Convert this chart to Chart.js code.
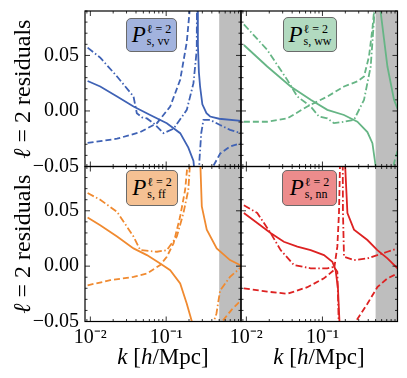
<!DOCTYPE html>
<html>
<head>
<meta charset="utf-8">
<script src="https://cdn.jsdelivr.net/npm/chart.js@4"></script>
<style>
body { margin: 0; background: #fff; }
#wrap { position: relative; width: 407px; height: 378px; font-family: 'Liberation Serif', serif; color: #000; }
canvas { position: absolute; left: 0; top: 0; }
.ylab { position: absolute; width: 200px; height: 30px; line-height: 30px; text-align: center; font-size: 24px; transform: rotate(-90deg); }
.xlab { position: absolute; width: 160px; height: 30px; line-height: 30px; text-align: center; font-size: 23px; }
.box { position: absolute; box-sizing: border-box; border: 1px solid #6a6a6a; border-radius: 5px;
       display: flex; align-items: center; justify-content: center; }
.P { font-style: italic; font-size: 23px; line-height: 24px; }
.ss { display: inline-flex; flex-direction: column; font-size: 12px; line-height: 12px; margin-left: 1px; }
</style>
</head>
<body>
<div id="wrap">
  <canvas id="c-vv" width="407" height="378"></canvas>
  <canvas id="c-ww" width="407" height="378"></canvas>
  <canvas id="c-ff" width="407" height="378"></canvas>
  <canvas id="c-nn" width="407" height="378"></canvas>

  <div class="ylab" style="left:-78px;top:74px"><i>ℓ</i> = 2 residuals</div>
  <div class="ylab" style="left:-78px;top:229px"><i>ℓ</i> = 2 residuals</div>
  <div class="xlab" style="left:83px;top:342px"><i>k</i> [<i>h</i>/Mpc]</div>
  <div class="xlab" style="left:239px;top:342px"><i>k</i> [<i>h</i>/Mpc]</div>

  <div class="box" style="left:126px;top:18px;width:51px;height:34px;background:#a2b3de">
    <span class="P">P</span><span class="ss"><span>ℓ = 2</span><span>s, vv</span></span></div>
  <div class="box" style="left:283px;top:17px;width:54px;height:35px;background:#b2dac0">
    <span class="P">P</span><span class="ss"><span>ℓ = 2</span><span>s, ww</span></span></div>
  <div class="box" style="left:126px;top:170px;width:52px;height:36px;background:#f5c193">
    <span class="P">P</span><span class="ss"><span>ℓ = 2</span><span>s, ff</span></span></div>
  <div class="box" style="left:282px;top:170px;width:55px;height:36px;background:#ec8c8c">
    <span class="P">P</span><span class="ss"><span>ℓ = 2</span><span>s, nn</span></span></div>
</div>

<script>
Chart.defaults.font.family = "'Liberation Serif', serif";
Chart.defaults.color = '#000';

// axis ranges and ticks
const kMin = 0.0085, kMax = 0.97;
const yMin = -0.05, yMax = 0.09;
const xTickVals = [0.01, 0.1];
const xTickLabels = ['10⁻²', '10⁻¹'];
const yTickVals = [-0.05, 0, 0.05];
const yTickLabels = ['−0.05', '0.00', '0.05'];
const bandStart = 0.5;

// vv panel (blue)
const vvSolidK = [0.0092, 0.0135, 0.0225, 0.0371, 0.0615, 0.102, 0.153, 0.196, 0.229, 0.24, 0.248, 0.25, 0.252, 0.256, 0.262, 0.27, 0.28, 0.30, 0.34, 0.38, 0.5, 0.97];
const vvSolid = [0.027, 0.022, 0.013, 0.004, -0.0036, -0.011, -0.020, -0.033, -0.045, -0.06, -0.12, null, 0.3, 0.12, 0.06, 0.035, 0.022, 0.006, -0.002, -0.005, -0.007, -0.009];
const vvDashK = [0.0092, 0.0225, 0.0455, 0.0755, 0.113, 0.153, 0.187, 0.203, 0.212, 0.22, 0.3, 0.415, 0.514, 0.695, 0.97];
const vvDash = [-0.0288, -0.025, -0.019, -0.011, 0.004, 0.028, 0.062, 0.089, 0.3, null, -0.3, -0.05, -0.0385, -0.032, -0.029];
const vvDotK = [0.0092, 0.0135, 0.0225, 0.0371, 0.041, 0.048, 0.0557, 0.068, 0.092, 0.125, 0.187, 0.229, 0.253, 0.262, 0.265, 0.268, 0.274, 0.29, 0.31, 0.38, 0.514, 0.695, 0.97];
const vvDot = [0.057, 0.048, 0.031, 0.013, -0.002, -0.0057, -0.0067, -0.011, -0.020, -0.016, 0.001, 0.025, 0.055, 0.3, null, -0.3, -0.045, -0.02, -0.008, -0.008, -0.0127, -0.017, -0.020];

// ww panel (green)
const wwSolidK = [0.00927, 0.0188, 0.0382, 0.070, 0.116, 0.192, 0.288, 0.39, 0.454, 0.501, 0.54, 0.55, 0.56, 0.583, 0.715, 0.873, 0.97];
const wwSolid = [0.0594, 0.040, 0.022, 0.010, 0.001, -0.0036, -0.0097, -0.019, -0.029, -0.05, -0.3, null, 0.3, 0.089, 0.040, 0.010, 0.002];
const wwDashK = [0.00927, 0.0188, 0.0345, 0.0633, 0.116, 0.192, 0.288, 0.352, 0.409, 0.454, 0.477, 0.49, 0.5, 0.6, 0.873, 0.97];
const wwDash = [-0.0097, -0.0097, -0.0067, 0.004, 0.013, 0.022, 0.0266, 0.031, 0.049, 0.074, 0.09, 0.3, null, -0.3, -0.047, -0.036];
const wwDotK = [0.00927, 0.0188, 0.0345, 0.0468, 0.070, 0.090, 0.116, 0.1417, 0.192, 0.26, 0.352, 0.431, 0.477, 0.49];
const wwDot = [0.078, 0.055, 0.028, 0.013, 0.004, -0.005, -0.0067, -0.011, -0.0097, -0.008, 0.010, 0.040, 0.083, 0.3];

// ff panel (orange)
const ffSolidK = [0.0092, 0.0135, 0.0225, 0.0371, 0.0557, 0.0834, 0.113, 0.153, 0.187, 0.218, 0.262, 0.267, 0.272, 0.283, 0.295, 0.343, 0.464, 0.695, 0.94, 0.97];
const ffSolid = [0.044, 0.037, 0.0267, 0.016, 0.010, 0.0024, -0.0036, -0.0157, -0.034, -0.05, -0.3, null, 0.3, 0.09, 0.054, 0.033, 0.016, 0.0055, 0.001, 0.0005];
const ffDashK = [0.0092, 0.0183, 0.0371, 0.0557, 0.0834, 0.102, 0.125, 0.153, 0.178, 0.19, 0.2, 0.25, 0.3, 0.5, 0.546, 0.737, 0.97];
const ffDash = [-0.0173, -0.0127, -0.0097, -0.0067, 0.001, 0.0085, 0.0206, 0.045, 0.069, 0.09, 0.2, null, -0.3, -0.07, -0.05, -0.039, -0.031];
const ffDotK = [0.0092, 0.0135, 0.0225, 0.0371, 0.0455, 0.0755, 0.102, 0.138, 0.169, 0.196, 0.205, 0.215, 0.25, 0.3, 0.4, 0.415, 0.46, 0.514, 0.695, 0.97];
const ffDot = [0.066, 0.060, 0.049, 0.0267, 0.0145, 0.013, 0.0145, 0.0267, 0.048, 0.069, 0.09, 0.2, null, -0.3, -0.07, -0.052, -0.043, -0.022, -0.0097, -0.001];

// nn panel (red)
const nnSolidK = [0.00927, 0.0139, 0.0208, 0.0311, 0.0468, 0.070, 0.1047, 0.135, 0.149, 0.16, 0.17, 0.178, 0.183, 0.188, 0.196, 0.213, 0.26, 0.39, 0.527, 0.715, 0.97];
const nnSolid = [0.048, 0.039, 0.030, 0.022, 0.0176, 0.0145, 0.010, 0.004, -0.0036, -0.02, -0.06, -0.3, null, 0.3, 0.1, 0.048, 0.033, 0.0236, 0.0145, 0.007, -0.002];
const nnDashK = [0.00927, 0.0188, 0.0345, 0.0633, 0.1047, 0.1417, 0.157, 0.165, 0.17, 0.175, 0.18, 0.2, 0.25, 0.275, 0.39, 0.527, 0.715, 0.97];
const nnDash = [-0.020, -0.023, -0.025, -0.019, -0.011, -0.0036, 0.0176, 0.048, 0.09, 0.3, null, -0.3, -0.08, -0.05, -0.034, -0.019, -0.011, -0.0067];
const nnDotK = [0.00927, 0.0139, 0.0208, 0.0282, 0.0422, 0.070, 0.116, 0.1417, 0.157, 0.165, 0.17, 0.175, 0.18, 0.186, 0.192, 0.26, 0.39, 0.527, 0.715, 0.97];
const nnDot = [0.055, 0.048, 0.030, 0.0145, 0.001, -0.002, -0.002, -0.0006, -0.005, -0.06, -0.3, null, 0.3, 0.05, 0.0085, 0.0055, 0.007, 0.010, 0.013, 0.016];

const W = 407, H = 378;

function pts(k, v) {
  return k.map((x, i) => ({ x: x, y: v[i] }));
}

function line(k, v, color, dash) {
  return {
    data: pts(k, v),
    borderColor: color,
    borderWidth: 1.8,
    borderDash: dash,
    pointRadius: 0,
    tension: 0,
    clip: 0
  };
}

// gray band + inward ticks on all four sides + frame
const framePlugin = {
  id: 'frame',
  beforeDatasetsDraw(chart) {
    const { ctx, chartArea: a, scales: { x } } = chart;
    const x0 = x.getPixelForValue(bandStart);
    ctx.save();
    ctx.fillStyle = '#bebebe';
    ctx.fillRect(x0, a.top, a.right - x0, a.bottom - a.top);
    ctx.restore();
  },
  afterDraw(chart) {
    const { ctx, chartArea: a, scales: { x, y } } = chart;
    ctx.save();
    ctx.strokeStyle = '#000';
    ctx.lineWidth = 0.8;
    ctx.beginPath();
    for (let d = 0.001; d < 2; d *= 10) {
      for (let m = 1; m < 10; m++) {
        const v = m * d;
        if (v < kMin || v > kMax) continue;
        const px = x.getPixelForValue(v);
        const len = m === 1 ? 5 : 2.5;
        ctx.moveTo(px, a.bottom); ctx.lineTo(px, a.bottom - len);
        ctx.moveTo(px, a.top); ctx.lineTo(px, a.top + len);
      }
    }
    for (let i = -5; i <= 9; i++) {
      const py = y.getPixelForValue(i / 100);
      const len = i % 5 === 0 ? 5 : 2.5;
      ctx.moveTo(a.left, py); ctx.lineTo(a.left + len, py);
      ctx.moveTo(a.right, py); ctx.lineTo(a.right - len, py);
    }
    ctx.stroke();
    ctx.lineWidth = 1.2;
    ctx.strokeRect(a.left, a.top, a.right - a.left, a.bottom - a.top);
    ctx.restore();
  }
};

function makePanel(id, box, color, sets, showX, showY) {
  const datasets = [
    line(sets[0], sets[1], color, []),
    line(sets[2], sets[3], color, [6, 3]),
    line(sets[4], sets[5], color, [7, 2.5, 1.5, 2.5])
  ];
  new Chart(document.getElementById(id), {
    type: 'line',
    data: { datasets: datasets },
    plugins: [framePlugin],
    options: {
      responsive: false,
      animation: false,
      // the scale boxes take the whole left / bottom margin, so labels are not clipped
      layout: { padding: { left: 0, top: box.t, right: W - box.r, bottom: 0 } },
      plugins: { legend: { display: false }, tooltip: { enabled: false } },
      scales: {
        x: {
          type: 'logarithmic',
          min: kMin,
          max: kMax,
          grid: { display: false, drawTicks: false },
          border: { display: false },
          afterBuildTicks: s => { s.ticks = xTickVals.map(v => ({ value: v })); },
          afterFit: s => { s.height = H - box.b; s.paddingLeft = 0; s.paddingRight = 0; },
          ticks: {
            display: showX, autoSkip: false, maxRotation: 0, minRotation: 0, padding: 4,
            font: { size: 20 },
            callback: v => xTickLabels[xTickVals.indexOf(v)] || ''
          }
        },
        y: {
          type: 'linear',
          min: yMin,
          max: yMax,
          grid: { display: false, drawTicks: false },
          border: { display: false },
          afterBuildTicks: s => { s.ticks = yTickVals.map(v => ({ value: v })); },
          afterFit: s => { s.width = box.l; s.paddingTop = 0; s.paddingBottom = 0; },
          ticks: {
            display: showY, autoSkip: false, padding: 6,
            font: { size: 20 },
            callback: v => yTickLabels[yTickVals.indexOf(v)] || ''
          }
        }
      }
    }
  });
}

makePanel('c-vv', { l: 85, r: 241, t: 11, b: 166.5 }, '#3f62b5',
  [vvSolidK, vvSolid, vvDashK, vvDash, vvDotK, vvDot], false, true);
makePanel('c-ww', { l: 241, r: 397.5, t: 11, b: 166.5 }, '#66b585',
  [wwSolidK, wwSolid, wwDashK, wwDash, wwDotK, wwDot], false, false);
makePanel('c-ff', { l: 85, r: 241, t: 166.5, b: 321.5 }, '#f08a30',
  [ffSolidK, ffSolid, ffDashK, ffDash, ffDotK, ffDot], true, true);
makePanel('c-nn', { l: 241, r: 397.5, t: 166.5, b: 321.5 }, '#dd2222',
  [nnSolidK, nnSolid, nnDashK, nnDash, nnDotK, nnDot], true, false);
</script>
</body>
</html>
